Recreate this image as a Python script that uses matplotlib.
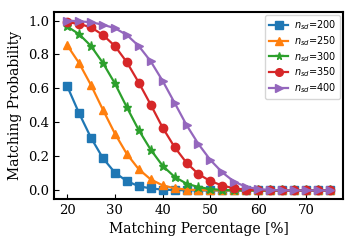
import numpy as np
import matplotlib
matplotlib.use("Agg")
import matplotlib.pyplot as plt

# matching percentage from 20 to 75 in steps of 2.5
pct = [20 + 2.5 * i for i in range(23)]

n_sd = [200, 250, 300, 350, 400]
markers = ["s", "^", "*", "o", ">"]

p200 = [0.615, 0.455, 0.31, 0.19, 0.105, 0.055, 0.025, 0.012, 0.005, 0.002,
        0.001, 0, 0, 0, 0, 0, 0, 0, 0, 0, 0, 0, 0]
p250 = [0.855, 0.75, 0.62, 0.475, 0.335, 0.215, 0.125, 0.065, 0.03, 0.013,
        0.005, 0.002, 0.001, 0, 0, 0, 0, 0, 0, 0, 0, 0, 0]
p300 = [0.965, 0.92, 0.85, 0.75, 0.63, 0.49, 0.355, 0.24, 0.145, 0.08,
        0.04, 0.02, 0.008, 0.003, 0.001, 0, 0, 0, 0, 0, 0, 0, 0]
p350 = [0.99, 0.98, 0.96, 0.915, 0.85, 0.755, 0.635, 0.505, 0.37, 0.255,
        0.163, 0.096, 0.055, 0.029, 0.012, 0.005, 0.002, 0.001, 0, 0, 0, 0, 0]
p400 = [1.0, 0.995, 0.99, 0.975, 0.955, 0.915, 0.85, 0.76, 0.645, 0.516,
        0.385, 0.273, 0.179, 0.106, 0.051, 0.021, 0.008, 0.003, 0.001, 0, 0, 0, 0]

series = [p200, p250, p300, p350, p400]


def main():
    fig, ax = plt.subplots(figsize=(3.55, 2.45), dpi=100)
    for n, m, y in zip(n_sd, markers, series):
        ms = 6.5 if m == "*" else 6
        ax.plot(pct, y, marker=m, markersize=ms, linewidth=1.6,
                label=r"$n_{sd}$=" + str(n))

    ax.set_xlabel("Matching Percentage [%]", family="DejaVu Serif", size=10)
    ax.set_ylabel("Matching Probability", family="DejaVu Serif", size=10)
    ax.tick_params(direction="in", labelsize=9.5)
    for lab in ax.get_xticklabels() + ax.get_yticklabels():
        lab.set_family("DejaVu Serif")
    for s in ax.spines.values():
        s.set_linewidth(1.5)
    ax.set_xticks([20, 30, 40, 50, 60, 70])
    ax.set_yticks([0.0, 0.2, 0.4, 0.6, 0.8, 1.0])
    leg = ax.legend(loc="upper right", fontsize=7, handlelength=2.0,
                    borderpad=0.35, labelspacing=0.2, handletextpad=0.6,
                    borderaxespad=0.3)
    for h in leg.get_lines():
        h.set_markersize(5.5)

    fig.subplots_adjust(left=0.152, right=0.966, top=0.951, bottom=0.188)
    fig.savefig("out.png", dpi=100)


if __name__ == "__main__":
    main()
